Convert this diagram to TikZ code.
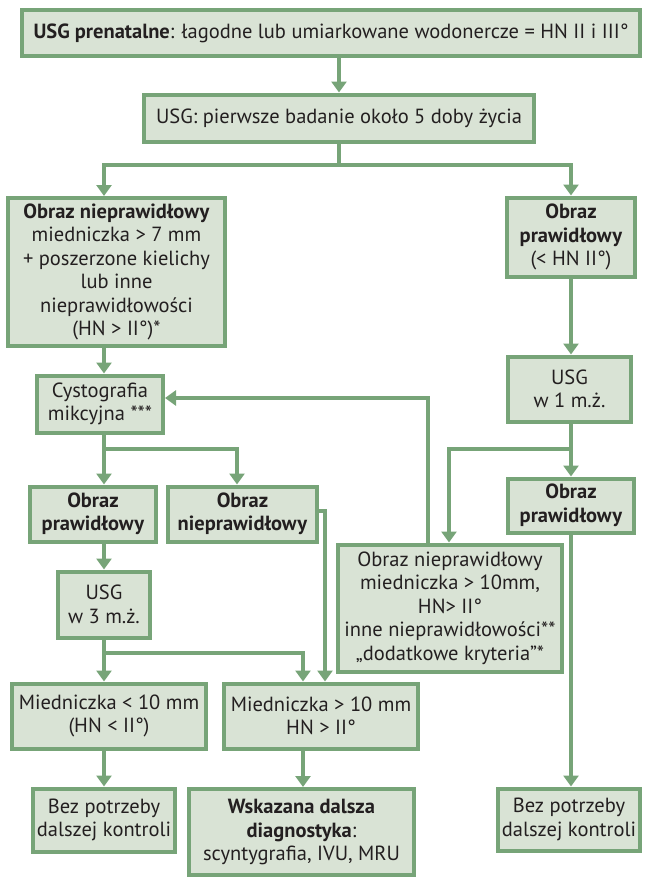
\documentclass[tikz,border=0pt]{standalone}
\usepackage{fontspec}
\setmainfont{PT Sans}
\usetikzlibrary{arrows.meta}
\definecolor{boxline}{RGB}{119,164,120}
\definecolor{boxfill}{RGB}{217,227,213}
\definecolor{boxtext}{RGB}{35,31,32}

\begin{document}
\begin{tikzpicture}[x=1pt, y=-1pt, >={Triangle[width=15pt,length=11pt]},
      box/.style={draw=boxline, fill=boxfill, line width=4pt, align=center,
        inner sep=1pt, text=boxtext, font=\fontsize{20.5}{23.5}\selectfont},
      link/.style={->, draw=boxline, line width=4pt}]
    \useasboundingbox (0,0) rectangle (646,878);

    \node[box, minimum width=618pt, minimum height=46pt] (prenatal) at (331,33)
      {\textbf{USG prenatalne}: łagodne lub umiarkowane wodonercze = HN II i III°};
    \node[box, minimum width=390pt, minimum height=47pt] (scan)
      [below of=prenatal, node distance=85pt, xshift=8pt] {USG: pierwsze badanie około 5 doby życia};
    \node[box, minimum width=217pt, minimum height=148pt] (abnA)
      [below of=scan, node distance=154pt, xshift=-222.5pt]
      {\textbf{Obraz nieprawidłowy}\\miedniczka > 7 mm\\+ poszerzone kielichy\\lub inne\\nieprawidłowości\\(HN > II°)*};
    \node[box, minimum width=128pt, minimum height=79pt] (normA)
      [below of=scan, node distance=119pt, xshift=232pt] {\textbf{Obraz}\\\textbf{prawidłowy}\\(< HN II°)};
    \node[box, minimum width=126pt, minimum height=57pt] (cysto)
      [below of=abnA, node distance=132pt, xshift=-16.5pt] {Cystografia\\mikcyjna ***};
    \node[box, minimum width=123pt, minimum height=65pt] (usgA)
      [below of=normA, node distance=152pt, xshift=-1.5pt] {USG\\w 1 m.ż.};
    \node[box, minimum width=126pt, minimum height=55pt] (normB)
      [below of=cysto, node distance=110pt, xshift=-7pt] {\textbf{Obraz}\\\textbf{prawidłowy}};
    \node[box, minimum width=149pt, minimum height=55pt] (abnB)
      [right of=normB, node distance=149.5pt] {\textbf{Obraz}\\\textbf{nieprawidłowy}};
    \node[box, minimum width=126pt, minimum height=54pt] (normC)
      [below of=usgA, node distance=116.5pt, xshift=1.5pt] {\textbf{Obraz}\\\textbf{prawidłowy}};
    \node[box, minimum width=224pt, minimum height=127pt] (abnC)
      [below of=usgA, node distance=219pt, xshift=-119.5pt]
      {Obraz nieprawidłowy\\miedniczka > 10mm,\\HN> II°\\inne nieprawidłowości**\\„dodatkowe kryteria”*};
    \node[box, minimum width=92pt, minimum height=66pt] (usgB)
      [below of=normB, node distance=90.5pt, xshift=11pt] {USG\\w 3 m.ż.};
    \node[box, minimum width=194pt, minimum height=65pt] (lowA)
      [below of=usgB, node distance=111.5pt, xshift=5pt] {Miedniczka < 10 mm\\(HN < II°)};
    \node[box, minimum width=194pt, minimum height=65pt] (highA)
      [right of=lowA, node distance=212pt] {Miedniczka > 10 mm\\HN > II°};
    \node[box, minimum width=142pt, minimum height=63pt] (stopA)
      [below of=lowA, node distance=104pt, xshift=-5pt] {Bez potrzeby\\dalszej kontroli};
    \node[box, minimum width=225pt, minimum height=86pt] (diag)
      [below of=highA, node distance=116pt, xshift=-19.5pt]
      {\textbf{Wskazana dalsza}\\\textbf{diagnostyka}:\\scyntygrafia, IVU, MRU};
    \node[box, minimum width=142pt, minimum height=62pt] (stopB)
      [below of=normC, node distance=314pt, xshift=-2pt] {Bez potrzeby\\dalszej kontroli};

    % branch points
    \coordinate (forkL) at (104,165);
    \coordinate (forkR) at (571,165);
    \coordinate (cfork) at (237,449);
    \coordinate (ufork) at (449,449);
    \coordinate (back) at (428,398);
    \coordinate (side) at (325,511);
    \coordinate (gfork) at (303,653);

    \draw[link] (prenatal.south -| scan.north) -- (scan.north);
    \draw[link] (scan.south) |- (forkL) -- (abnA.north -| forkL);
    \draw[link] (scan.south) |- (forkR) -- (normA.north -| forkR);
    \draw[link] (abnA.south -| forkL) -- (cysto.north -| forkL);
    \draw[link] (normA.south -| forkR) -- (usgA.north -| forkR);
    \draw[link] (cysto.south -| forkL) -- (normB.north -| forkL);
    \draw[link] (cysto.south -| forkL) |- (cfork) -- (abnB.north -| cfork);
    \draw[link] (usgA.south -| forkR) -- (normC.north -| forkR);
    \draw[link] (usgA.south -| forkR) |- (ufork) -- (abnC.north -| ufork);
    \draw[link] (abnC.north -| back) -- (back) -- (cysto.east |- back);
    \draw[link] (abnB.east |- side) -- (side) -- (highA.north -| side);
    \draw[link] (normB.south -| forkL) -- (usgB.north -| forkL);
    \draw[link] (usgB.south -| forkL) -- (lowA.north -| forkL);
    \draw[link] (usgB.south -| forkL) |- (gfork) -- (highA.north -| gfork);
    \draw[link] (lowA.south -| forkL) -- (stopA.north -| forkL);
    \draw[link] (highA.south -| gfork) -- (diag.north -| gfork);
    \draw[link] (normC.south -| forkR) -- (stopB.north -| forkR);
  \end{tikzpicture}
\end{document}
